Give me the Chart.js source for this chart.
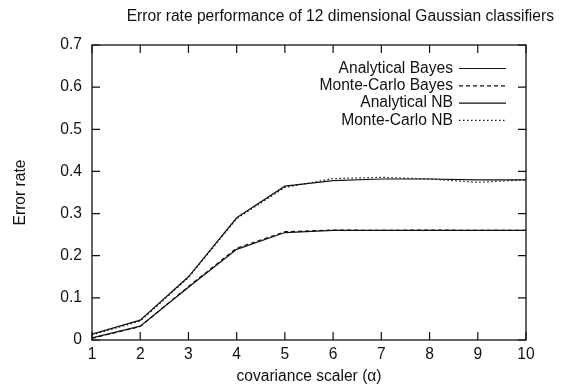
<!DOCTYPE html>
<html>
<head>
<meta charset="utf-8">
<script src="https://cdn.jsdelivr.net/npm/chart.js@4.4.1/dist/chart.umd.min.js"></script>
<style>
  html, body { margin: 0; padding: 0; background: #fff; }
  #wrap { width: 561px; height: 386px; }
</style>
</head>
<body>
<div id="wrap"><canvas id="errChart"></canvas></div>
<script>
// values
const alpha = [1, 2, 3, 4, 5, 6, 7, 8, 9, 10];
const analyticalBayes = [0.005, 0.033, 0.125, 0.215, 0.255, 0.26, 0.26, 0.26, 0.26, 0.26];
const monteCarloBayes = [0.004, 0.032, 0.127, 0.218, 0.257, 0.261, 0.26, 0.261, 0.26, 0.26];
const analyticalNB = [0.014, 0.047, 0.15, 0.29, 0.365, 0.378, 0.382, 0.382, 0.38, 0.38];
const monteCarloNB = [0.012, 0.045, 0.148, 0.288, 0.362, 0.383, 0.386, 0.382, 0.374, 0.38];
const yTicks = [0, 0.1, 0.2, 0.3, 0.4, 0.5, 0.6, 0.7];

const FONT = 'Liberation Sans, Arial, sans-serif';

function toPoints(ys) {
    return alpha.map((a, i) => ({ x: a, y: ys[i] }));
}

// box, inward ticks on all four sides, title and gnuplot-style legend
const gnuplotFrame = {
    id: 'gnuplotFrame',
    afterDraw(chart) {
        const ctx = chart.ctx;
        const area = chart.chartArea;
        const xs = chart.scales.x;
        const ys = chart.scales.y;
        const tick = 8;

        ctx.save();
        ctx.strokeStyle = '#111';
        ctx.lineWidth = 1.3;
        ctx.strokeRect(area.left, area.top, area.right - area.left, area.bottom - area.top);

        ctx.lineWidth = 1.2;
        ctx.beginPath();
        alpha.forEach(v => {
            const px = xs.getPixelForValue(v);
            ctx.moveTo(px, area.bottom);
            ctx.lineTo(px, area.bottom - tick);
            ctx.moveTo(px, area.top);
            ctx.lineTo(px, area.top + tick);
        });
        yTicks.forEach(v => {
            const py = ys.getPixelForValue(v);
            ctx.moveTo(area.left, py);
            ctx.lineTo(area.left + tick, py);
            ctx.moveTo(area.right, py);
            ctx.lineTo(area.right - tick, py);
        });
        ctx.stroke();

        // title
        ctx.fillStyle = '#111';
        ctx.font = '15.6px ' + FONT;
        ctx.textAlign = 'right';
        ctx.textBaseline = 'middle';
        ctx.fillText('Error rate performance of 12 dimensional Gaussian classifiers', 554, 17);

        // legend: text right aligned, sample line after it
        ctx.font = '15.6px ' + FONT;
        const textRight = area.right - 73;
        const lineStart = area.right - 67;
        const lineEnd = area.right - 20;
        chart.data.datasets.forEach((ds, i) => {
            const y = area.top + 23.5 + i * 17.3;
            ctx.fillText(ds.label, textRight, y);
            ctx.beginPath();
            ctx.setLineDash(ds.borderDash || []);
            ctx.lineWidth = ds.borderWidth;
            ctx.moveTo(lineStart, y);
            ctx.lineTo(lineEnd, y);
            ctx.stroke();
        });
        ctx.restore();
    }
};

new Chart(document.getElementById('errChart'), {
    type: 'line',
    data: {
        datasets: [
            { label: 'Analytical Bayes', data: toPoints(analyticalBayes), borderColor: '#111', borderWidth: 1.2, borderDash: [] },
            { label: 'Monte-Carlo Bayes', data: toPoints(monteCarloBayes), borderColor: '#111', borderWidth: 1.2, borderDash: [4, 3] },
            { label: 'Analytical NB', data: toPoints(analyticalNB), borderColor: '#111', borderWidth: 1.2, borderDash: [] },
            { label: 'Monte-Carlo NB', data: toPoints(monteCarloNB), borderColor: '#111', borderWidth: 1.2, borderDash: [1.5, 2.5] }
        ]
    },
    options: {
        responsive: true,
        maintainAspectRatio: false,
        animation: false,
        elements: {
            point: { radius: 0 },
            line: { tension: 0, fill: false }
        },
        layout: { padding: { top: 45, right: 35, left: 0, bottom: 0 } },
        plugins: {
            legend: { display: false },
            tooltip: { enabled: false },
            title: { display: false }
        },
        scales: {
            x: {
                type: 'linear',
                min: 1,
                max: 10,
                afterBuildTicks: scale => { scale.ticks = alpha.map(v => ({ value: v })); },
                afterFit: scale => { scale.height = 46; },
                grid: { display: false, drawTicks: false },
                border: { display: false },
                ticks: { color: '#111', padding: 5, font: { family: FONT, size: 15.6 } },
                title: {
                    display: true,
                    text: 'covariance scaler (\u03b1)',
                    color: '#111',
                    padding: { top: 2, bottom: 0 },
                    font: { family: FONT, size: 15.6 }
                }
            },
            y: {
                min: 0,
                max: 0.7,
                afterBuildTicks: scale => { scale.ticks = yTicks.map(v => ({ value: v })); },
                afterFit: scale => { scale.width = 92; },
                grid: { display: false, drawTicks: false },
                border: { display: false },
                ticks: { color: '#111', padding: 10, font: { family: FONT, size: 15.6 } },
                title: {
                    display: true,
                    text: 'Error rate',
                    color: '#111',
                    padding: { top: 11, bottom: 0 },
                    font: { family: FONT, size: 15.6 }
                }
            }
        }
    },
    plugins: [gnuplotFrame]
});
</script>
</body>
</html>
